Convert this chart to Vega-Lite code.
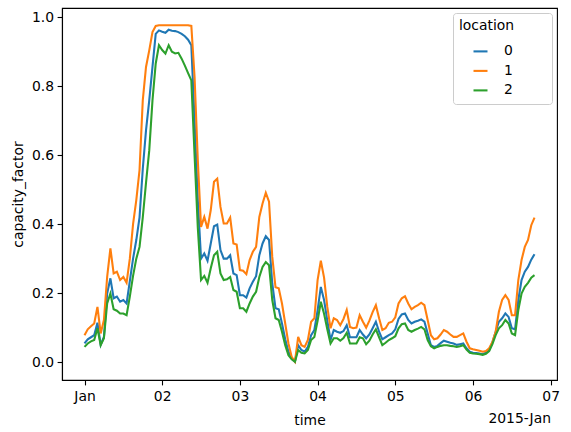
{
  "$schema": "https://vega.github.io/schema/vega-lite/v6.json",
  "width": 495,
  "height": 372,
  "padding": {"left": 11, "top": 8, "right": 14, "bottom": 5},
  "title": {"text": "2015-Jan", "orient": "bottom", "anchor": "end", "frame": "group", "offset": -16, "dx": -6, "fontSize": 13.9, "fontWeight": "normal", "font": "DejaVu Sans", "color": "black"},
  "data": {"values": [
    {"h":0,"0":0.054,"1":0.078,"2":0.044},
    {"h":1,"0":0.066,"1":0.095,"2":0.054},
    {"h":2,"0":0.072,"1":0.104,"2":0.060},
    {"h":3,"0":0.078,"1":0.112,"2":0.064},
    {"h":4,"0":0.114,"1":0.160,"2":0.098},
    {"h":5,"0":0.050,"1":0.083,"2":0.049},
    {"h":6,"0":0.073,"1":0.122,"2":0.069},
    {"h":7,"0":0.199,"1":0.247,"2":0.170},
    {"h":8,"0":0.243,"1":0.330,"2":0.199},
    {"h":9,"0":0.185,"1":0.257,"2":0.153},
    {"h":10,"0":0.190,"1":0.262,"2":0.149},
    {"h":11,"0":0.175,"1":0.238,"2":0.141},
    {"h":12,"0":0.180,"1":0.247,"2":0.141},
    {"h":13,"0":0.170,"1":0.230,"2":0.136},
    {"h":14,"0":0.235,"1":0.300,"2":0.190},
    {"h":15,"0":0.300,"1":0.400,"2":0.250},
    {"h":16,"0":0.354,"1":0.470,"2":0.300},
    {"h":17,"0":0.420,"1":0.557,"2":0.334},
    {"h":18,"0":0.560,"1":0.759,"2":0.420},
    {"h":19,"0":0.672,"1":0.856,"2":0.520},
    {"h":20,"0":0.759,"1":0.904,"2":0.614},
    {"h":21,"0":0.856,"1":0.957,"2":0.759},
    {"h":22,"0":0.952,"1":0.975,"2":0.866},
    {"h":23,"0":0.962,"1":0.977,"2":0.919},
    {"h":24,"0":0.958,"1":0.977,"2":0.905},
    {"h":25,"0":0.955,"1":0.977,"2":0.895},
    {"h":26,"0":0.964,"1":0.977,"2":0.919},
    {"h":27,"0":0.961,"1":0.977,"2":0.900},
    {"h":28,"0":0.960,"1":0.977,"2":0.895},
    {"h":29,"0":0.957,"1":0.977,"2":0.897},
    {"h":30,"0":0.952,"1":0.977,"2":0.880},
    {"h":31,"0":0.945,"1":0.977,"2":0.860},
    {"h":32,"0":0.935,"1":0.977,"2":0.838},
    {"h":33,"0":0.919,"1":0.975,"2":0.817},
    {"h":34,"0":0.700,"1":0.827,"2":0.600},
    {"h":35,"0":0.470,"1":0.585,"2":0.390},
    {"h":36,"0":0.300,"1":0.392,"2":0.238},
    {"h":37,"0":0.315,"1":0.421,"2":0.250},
    {"h":38,"0":0.294,"1":0.387,"2":0.230},
    {"h":39,"0":0.344,"1":0.441,"2":0.272},
    {"h":40,"0":0.394,"1":0.523,"2":0.310},
    {"h":41,"0":0.399,"1":0.532,"2":0.320},
    {"h":42,"0":0.325,"1":0.450,"2":0.257},
    {"h":43,"0":0.300,"1":0.402,"2":0.238},
    {"h":44,"0":0.300,"1":0.402,"2":0.240},
    {"h":45,"0":0.310,"1":0.419,"2":0.247},
    {"h":46,"0":0.257,"1":0.344,"2":0.209},
    {"h":47,"0":0.252,"1":0.341,"2":0.204},
    {"h":48,"0":0.194,"1":0.267,"2":0.156},
    {"h":49,"0":0.194,"1":0.265,"2":0.156},
    {"h":50,"0":0.187,"1":0.255,"2":0.146},
    {"h":51,"0":0.214,"1":0.296,"2":0.170},
    {"h":52,"0":0.233,"1":0.320,"2":0.190},
    {"h":53,"0":0.249,"1":0.334,"2":0.204},
    {"h":54,"0":0.310,"1":0.421,"2":0.247},
    {"h":55,"0":0.344,"1":0.460,"2":0.276},
    {"h":56,"0":0.365,"1":0.491,"2":0.290},
    {"h":57,"0":0.354,"1":0.465,"2":0.281},
    {"h":58,"0":0.228,"1":0.305,"2":0.180},
    {"h":59,"0":0.156,"1":0.217,"2":0.127},
    {"h":60,"0":0.153,"1":0.214,"2":0.122},
    {"h":61,"0":0.112,"1":0.170,"2":0.088},
    {"h":62,"0":0.066,"1":0.112,"2":0.049},
    {"h":63,"0":0.030,"1":0.054,"2":0.020},
    {"h":64,"0":0.011,"1":0.015,"2":0.008},
    {"h":65,"0":0.001,"1":0.001,"2":0.001},
    {"h":66,"0":0.049,"1":0.073,"2":0.035},
    {"h":67,"0":0.035,"1":0.049,"2":0.027},
    {"h":68,"0":0.030,"1":0.044,"2":0.025},
    {"h":69,"0":0.044,"1":0.064,"2":0.035},
    {"h":70,"0":0.078,"1":0.117,"2":0.064},
    {"h":71,"0":0.093,"1":0.127,"2":0.073},
    {"h":72,"0":0.150,"1":0.238,"2":0.120},
    {"h":73,"0":0.218,"1":0.294,"2":0.175},
    {"h":74,"0":0.180,"1":0.245,"2":0.140},
    {"h":75,"0":0.120,"1":0.160,"2":0.095},
    {"h":76,"0":0.064,"1":0.098,"2":0.054},
    {"h":77,"0":0.093,"1":0.127,"2":0.069},
    {"h":78,"0":0.088,"1":0.122,"2":0.069},
    {"h":79,"0":0.085,"1":0.107,"2":0.062},
    {"h":80,"0":0.090,"1":0.125,"2":0.070},
    {"h":81,"0":0.107,"1":0.151,"2":0.085},
    {"h":82,"0":0.072,"1":0.102,"2":0.054},
    {"h":83,"0":0.072,"1":0.098,"2":0.054},
    {"h":84,"0":0.072,"1":0.100,"2":0.054},
    {"h":85,"0":0.093,"1":0.136,"2":0.072},
    {"h":86,"0":0.080,"1":0.117,"2":0.069},
    {"h":87,"0":0.069,"1":0.100,"2":0.052},
    {"h":88,"0":0.080,"1":0.120,"2":0.062},
    {"h":89,"0":0.098,"1":0.145,"2":0.080},
    {"h":90,"0":0.117,"1":0.165,"2":0.095},
    {"h":91,"0":0.088,"1":0.127,"2":0.072},
    {"h":92,"0":0.066,"1":0.093,"2":0.049},
    {"h":93,"0":0.072,"1":0.098,"2":0.056},
    {"h":94,"0":0.078,"1":0.114,"2":0.064},
    {"h":95,"0":0.083,"1":0.117,"2":0.069},
    {"h":96,"0":0.095,"1":0.130,"2":0.075},
    {"h":97,"0":0.125,"1":0.170,"2":0.098},
    {"h":98,"0":0.138,"1":0.185,"2":0.110},
    {"h":99,"0":0.141,"1":0.191,"2":0.112},
    {"h":100,"0":0.122,"1":0.170,"2":0.093},
    {"h":101,"0":0.112,"1":0.153,"2":0.088},
    {"h":102,"0":0.117,"1":0.160,"2":0.093},
    {"h":103,"0":0.120,"1":0.165,"2":0.097},
    {"h":104,"0":0.124,"1":0.172,"2":0.102},
    {"h":105,"0":0.117,"1":0.165,"2":0.095},
    {"h":106,"0":0.083,"1":0.122,"2":0.064},
    {"h":107,"0":0.049,"1":0.078,"2":0.046},
    {"h":108,"0":0.044,"1":0.066,"2":0.040},
    {"h":109,"0":0.047,"1":0.069,"2":0.044},
    {"h":110,"0":0.055,"1":0.080,"2":0.047},
    {"h":111,"0":0.062,"1":0.093,"2":0.049},
    {"h":112,"0":0.059,"1":0.088,"2":0.049},
    {"h":113,"0":0.056,"1":0.080,"2":0.047},
    {"h":114,"0":0.054,"1":0.073,"2":0.046},
    {"h":115,"0":0.050,"1":0.073,"2":0.044},
    {"h":116,"0":0.052,"1":0.078,"2":0.046},
    {"h":117,"0":0.054,"1":0.083,"2":0.049},
    {"h":118,"0":0.040,"1":0.059,"2":0.036},
    {"h":119,"0":0.030,"1":0.040,"2":0.027},
    {"h":120,"0":0.027,"1":0.037,"2":0.025},
    {"h":121,"0":0.026,"1":0.035,"2":0.024},
    {"h":122,"0":0.025,"1":0.033,"2":0.023},
    {"h":123,"0":0.023,"1":0.030,"2":0.021},
    {"h":124,"0":0.027,"1":0.032,"2":0.024},
    {"h":125,"0":0.035,"1":0.040,"2":0.032},
    {"h":126,"0":0.057,"1":0.058,"2":0.052},
    {"h":127,"0":0.088,"1":0.088,"2":0.078},
    {"h":128,"0":0.117,"1":0.146,"2":0.098},
    {"h":129,"0":0.127,"1":0.180,"2":0.107},
    {"h":130,"0":0.141,"1":0.194,"2":0.122},
    {"h":131,"0":0.131,"1":0.180,"2":0.112},
    {"h":132,"0":0.098,"1":0.136,"2":0.083},
    {"h":133,"0":0.095,"1":0.136,"2":0.078},
    {"h":134,"0":0.180,"1":0.238,"2":0.151},
    {"h":135,"0":0.238,"1":0.296,"2":0.199},
    {"h":136,"0":0.262,"1":0.334,"2":0.218},
    {"h":137,"0":0.276,"1":0.354,"2":0.230},
    {"h":138,"0":0.297,"1":0.397,"2":0.245},
    {"h":139,"0":0.313,"1":0.419,"2":0.252}
  ]},
  "transform": [{"fold": ["0", "1", "2"], "as": ["location", "capacity_factor"]}],
  "mark": {"type": "line", "strokeWidth": 2.08, "clip": true},
  "encoding": {
    "x": {
      "field": "h", "type": "quantitative",
      "scale": {"domain": [-6.95, 145.95], "nice": false, "zero": false},
      "axis": {"title": "time", "values": [0, 24, 48, 72, 96, 120, 144], "labelPadding": 5, "titlePadding": 10,
               "labelExpr": "datum.value == 0 ? 'Jan' : '0' + (datum.value / 24 + 1)"}
    },
    "y": {
      "field": "capacity_factor", "type": "quantitative",
      "scale": {"domain": [-0.052, 1.027], "nice": false, "zero": false},
      "axis": {"title": "capacity_factor", "values": [0, 0.2, 0.4, 0.6, 0.8, 1.0], "format": ".1f", "titlePadding": 6}
    },
    "color": {
      "field": "location", "type": "nominal",
      "scale": {"domain": ["0", "1", "2"], "range": ["#1f77b4", "#ff7f0e", "#2ca02c"]},
      "legend": {
        "title": "location", "orient": "top-right", "offset": 5,
        "symbolType": "M-0.7,0H0.7", "symbolSize": 400, "symbolStrokeWidth": 2.08, "symbolOffset": 10,
        "strokeColor": "#cccccc", "fillColor": "white", "cornerRadius": 3, "padding": 6,
        "rowPadding": 0.5, "titleAnchor": "start", "titlePadding": 7, "labelOffset": 12,
        "labelExpr": "datum.label + '\u00a0\u00a0\u00a0\u00a0\u00a0\u2800'"
      }
    }
  },
  "config": {
    "font": "DejaVu Sans",
    "view": {"stroke": "black", "strokeWidth": 1.1},
    "axis": {
      "grid": false, "labelFontSize": 13.9, "titleFontSize": 13.9, "titleFontWeight": "normal",
      "labelColor": "black", "titleColor": "black", "tickColor": "black", "domainColor": "black",
      "tickSize": 4.9, "tickWidth": 1.1, "domainWidth": 1.1, "labelPadding": 3.5, "titlePadding": 5
    },
    "axisX": {"labelFlush": false},
    "axisY": {"labelFlush": false},
    "legend": {"labelFontSize": 13.9, "titleFontSize": 13.9, "titleFontWeight": "normal",
               "labelColor": "black", "titleColor": "black", "labelFont": "DejaVu Sans", "titleFont": "DejaVu Sans"}
  }
}
